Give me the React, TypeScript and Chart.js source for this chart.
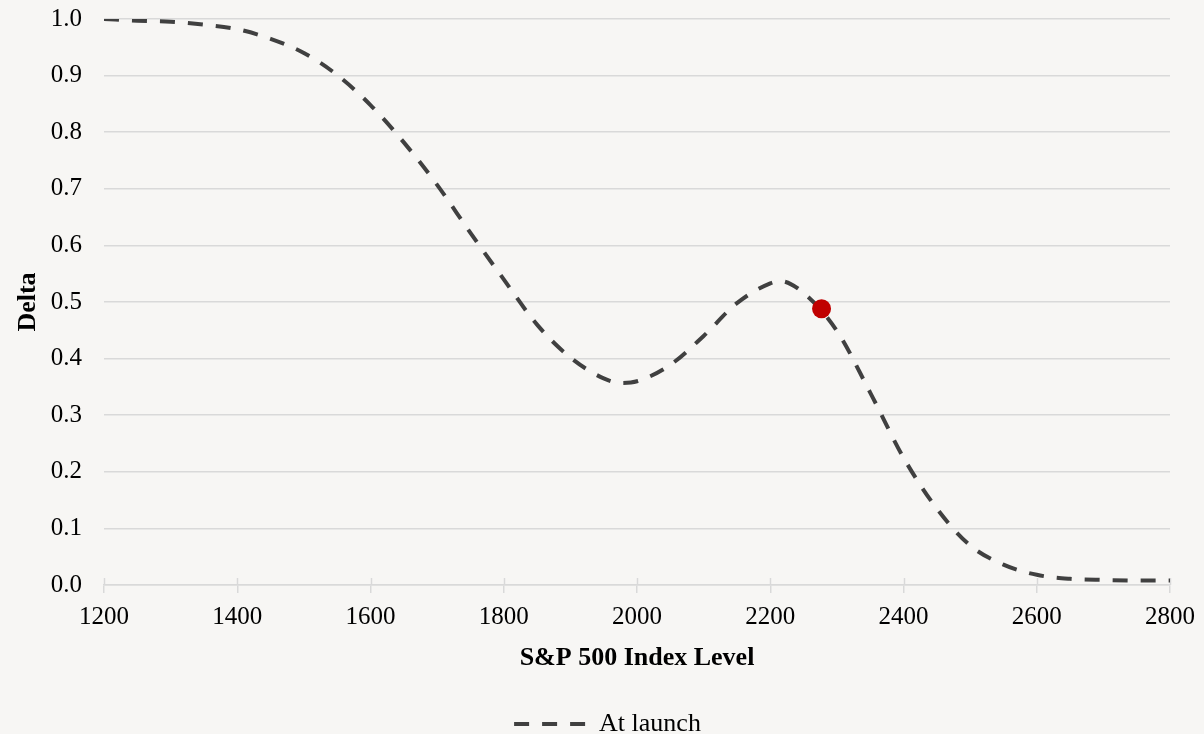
import React, { useEffect, useRef } from "react";
import { Chart, registerables } from "chart.js";

Chart.register(...registerables);

// S&P 500 index level (x) and option delta (y)
const indexLevels = [
  1200, 1250, 1300, 1350, 1400, 1450, 1500, 1550, 1600, 1650, 1700, 1750,
  1800, 1850, 1900, 1950, 1975, 2000, 2050, 2100, 2150, 2200, 2215, 2250,
  2300, 2350, 2400, 2450, 2500, 2550, 2600, 2650, 2700, 2750, 2800,
];
const deltaAtLaunch = [
  1.0, 0.997, 0.995, 0.99, 0.982, 0.965, 0.94, 0.901, 0.848, 0.782, 0.707,
  0.622, 0.54, 0.46, 0.402, 0.365, 0.357, 0.36, 0.389, 0.44, 0.498, 0.533,
  0.537, 0.516, 0.449, 0.34, 0.225, 0.135, 0.07, 0.036, 0.018, 0.011, 0.009,
  0.008, 0.008,
];
const currentLevel = [2277];
const currentDelta = [0.488];

const seriesLabel = "At launch";
const xTitle = "S&P 500 Index Level";
const yTitle = "Delta";

const BG = "#f7f6f4";
const GRID = "#d9d9d9";
const LINE = "#404040";
const DASH = [15, 13];
const FONT = "'Liberation Serif', 'Times New Roman', serif";

const bgPlugin = {
  id: "bg",
  beforeDraw(chart: any) {
    const ctx = chart.ctx;
    ctx.save();
    ctx.fillStyle = BG;
    ctx.fillRect(0, 0, chart.width, chart.height);
    ctx.restore();
  },
};

const crossTicksPlugin = {
  id: "crossTicks",
  beforeDatasetsDraw(chart: any) {
    const scale = chart.scales.x;
    const ctx = chart.ctx;
    ctx.save();
    ctx.strokeStyle = GRID;
    ctx.lineWidth = 1.5;
    ctx.beginPath();
    for (const t of scale.ticks) {
      const px = Math.round(scale.getPixelForValue(t.value)) + 0.5;
      ctx.moveTo(px, scale.top - 7);
      ctx.lineTo(px, scale.top);
    }
    ctx.stroke();
    ctx.restore();
  },
};

export default function App() {
  const ref = useRef<HTMLCanvasElement | null>(null);

  useEffect(() => {
    document.body.style.margin = "0";
    document.body.style.background = BG;
    const canvas = ref.current;
    if (!canvas) return;
    const chart = new Chart(canvas, {
      type: "line",
      data: {
        datasets: [
          {
            label: "Current",
            data: currentLevel.map((x, i) => ({ x, y: currentDelta[i] })),
            showLine: false,
            pointRadius: 9.5,
            pointHoverRadius: 9.5,
            pointBackgroundColor: "#c00000",
            pointBorderWidth: 0,
            borderColor: "#c00000",
            backgroundColor: "#c00000",
          },
          {
            label: seriesLabel,
            data: indexLevels.map((x, i) => ({ x, y: deltaAtLaunch[i] })),
            borderColor: LINE,
            backgroundColor: LINE,
            borderWidth: 4,
            borderDash: DASH,
            borderCapStyle: "butt",
            pointRadius: 0,
            cubicInterpolationMode: "monotone",
            fill: false,
          },
        ],
      },
      options: {
        responsive: false,
        animation: false,
        events: [],
        layout: {
          autoPadding: false,
          padding: { top: 19, right: 32, left: 43, bottom: -13 },
        },
        plugins: {
          tooltip: { enabled: false },
          legend: {
            position: "bottom",
            labels: {
              usePointStyle: true,
              pointStyle: "line",
              pointStyleWidth: 72,
              padding: 0,
              color: "#000",
              font: { family: FONT, size: 26 },
              filter: (item: any) => item.text === seriesLabel,
              generateLabels: (c: any) =>
                Chart.defaults.plugins.legend.labels
                  .generateLabels(c)
                  .map((it: any) => ({
                    ...it,
                    lineDash: DASH,
                    lineWidth: 4,
                    strokeStyle: LINE,
                    pointStyle: "line",
                  })),
            },
          },
        },
        scales: {
          x: {
            type: "linear",
            min: 1200,
            max: 2800,
            afterFit: (s: any) => {
              s.height = 126;
            },
            border: { display: true, color: GRID, width: 1.5 },
            grid: {
              drawOnChartArea: false,
              drawTicks: true,
              tickLength: 8,
              color: GRID,
              lineWidth: 1.5,
            },
            ticks: {
              stepSize: 200,
              padding: 9,
              color: "#000",
              font: { family: FONT, size: 25 },
              maxRotation: 0,
              callback: (v: any) => String(v),
            },
            title: {
              display: true,
              text: xTitle,
              color: "#000",
              font: { family: FONT, size: 26, weight: "bold" },
              padding: { top: 0, bottom: 37 },
            },
          },
          y: {
            type: "linear",
            min: 0,
            max: 1,
            afterFit: (s: any) => {
              s.width = 61;
            },
            border: { display: false },
            grid: {
              color: GRID,
              lineWidth: 1.5,
              drawTicks: true,
              tickLength: 22,
              tickColor: "rgba(0,0,0,0)",
            },
            ticks: {
              stepSize: 0.1,
              padding: 0,
              color: "#000",
              font: { family: FONT, size: 25 },
              callback: (v: any) => Number(v).toFixed(1),
            },
            title: {
              display: true,
              text: yTitle,
              color: "#000",
              font: { family: FONT, size: 26, weight: "bold" },
              padding: { top: -30.5, bottom: 0 },
            },
          },
        },
      },
      plugins: [bgPlugin, crossTicksPlugin],
    } as any);
    return () => chart.destroy();
  }, []);

  return (
    <div style={{ width: 1204, height: 734, background: BG }}>
      <canvas ref={ref} width={1204} height={734} style={{ display: "block" }} />
    </div>
  );
}
